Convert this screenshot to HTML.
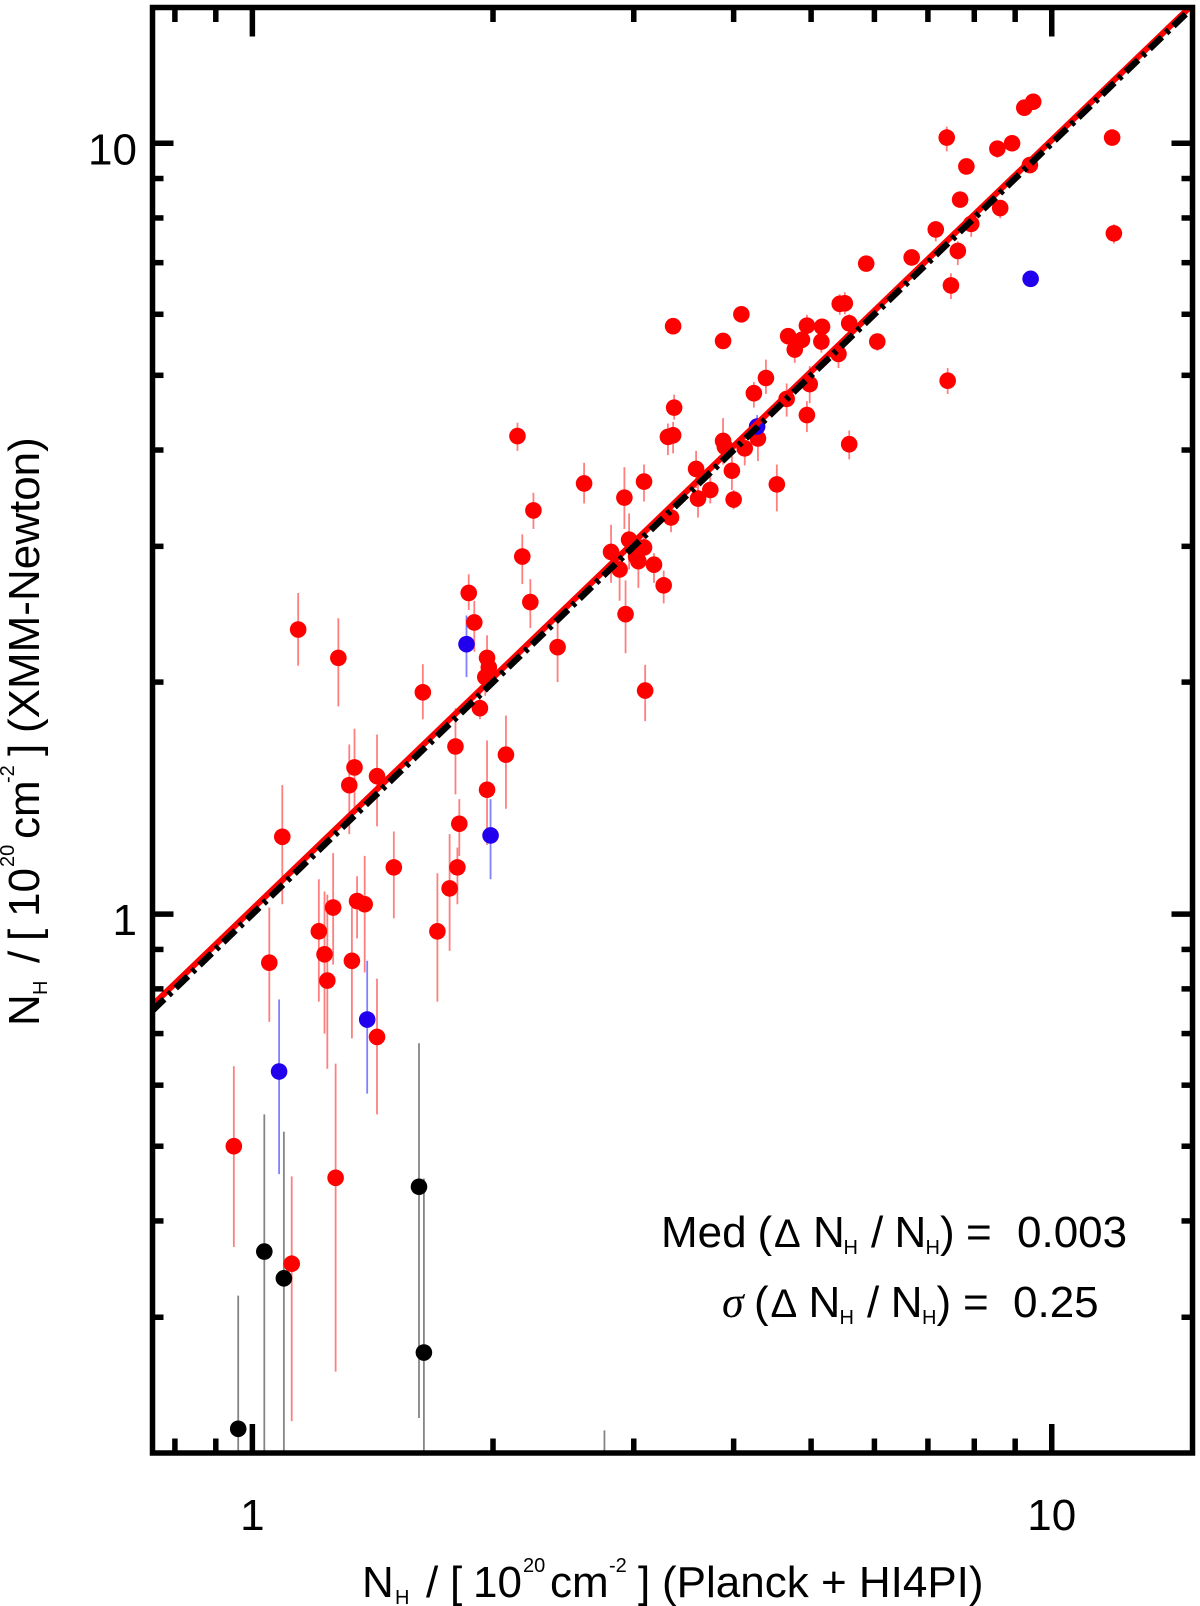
<!DOCTYPE html>
<html lang="en">
<head>
<meta charset="utf-8">
<title>NH comparison: XMM-Newton vs Planck + HI4PI</title>
<style>
html,body{margin:0;padding:0;background:#fff;}
svg{display:block;}
text{font-family:"Liberation Sans",sans-serif;fill:#000;}
.t{font-size:44px;}
.d{font-size:40px;}
.s{font-size:20px;}
.g{font-family:"Liberation Serif",serif;font-style:italic;font-size:44px;}
</style>
</head>
<body>
<svg id="chart" xmlns="http://www.w3.org/2000/svg" width="1200" height="1606" viewBox="0 0 1200 1606">
  <defs><clipPath id="plot-clip"><rect x="152.5" y="7.5" width="1040" height="1445.5"/></clipPath></defs>
  <rect x="0" y="0" width="1200" height="1606" fill="#fff"/>
  <g id="errors" clip-path="url(#plot-clip)"></g>
  <g id="points" clip-path="url(#plot-clip)"></g>
  <g id="lines" clip-path="url(#plot-clip)"></g>
  <g id="axes"></g>

  <g>
    <text class="t" x="362" y="1597">N</text>
    <text class="s" x="395" y="1604">H</text>
    <text class="t" x="426" y="1597">/</text>
    <text class="t" x="450" y="1597">[</text>
    <text class="t" x="473" y="1597">10</text>
    <text class="s" x="523" y="1572">20</text>
    <text class="t" x="550" y="1597">cm</text>
    <text class="s" x="609" y="1572">-2</text>
    <text class="t" x="638" y="1597">]</text>
    <text class="t" x="662" y="1597">(Planck + HI4PI)</text>
  </g>

  <g>
    <text class="t" transform="translate(39,1026) rotate(-90)">N</text>
    <text class="s" transform="translate(47,995) rotate(-90)">H</text>
    <text class="t" transform="translate(39,963) rotate(-90)">/</text>
    <text class="t" transform="translate(39,941) rotate(-90)">[</text>
    <text class="t" transform="translate(39,917) rotate(-90)">10</text>
    <text class="s" transform="translate(14,867) rotate(-90)">20</text>
    <text class="t" transform="translate(39,839) rotate(-90)">cm</text>
    <text class="s" transform="translate(14,783) rotate(-90)">-2</text>
    <text class="t" transform="translate(39,756) rotate(-90)">]</text>
    <text class="t" transform="translate(39,733) rotate(-90)">(XMM-Newton)</text>
  </g>

  <g>
    <text class="t" x="661" y="1247">Med</text>
    <text class="t" x="757.5" y="1247">(</text>
    <text class="d" x="774" y="1247">&#916;</text>
    <text class="t" x="813" y="1247">N</text>
    <text class="s" x="843.5" y="1254">H</text>
    <text class="t" x="871" y="1247">/</text>
    <text class="t" x="894.5" y="1247">N</text>
    <text class="s" x="925.5" y="1254">H</text>
    <text class="t" x="940" y="1247">)</text>
    <text class="t" x="966" y="1247">=</text>
    <text class="t" x="1017" y="1247">0.003</text>
  </g>
  <g>
    <text class="g" x="722" y="1317">&#963;</text>
    <text class="t" x="754" y="1317">(</text>
    <text class="d" x="770.5" y="1317">&#916;</text>
    <text class="t" x="808.5" y="1317">N</text>
    <text class="s" x="839.5" y="1324">H</text>
    <text class="t" x="867" y="1317">/</text>
    <text class="t" x="890.8" y="1317">N</text>
    <text class="s" x="922" y="1324">H</text>
    <text class="t" x="936.5" y="1317">)</text>
    <text class="t" x="963" y="1317">=</text>
    <text class="t" x="1013" y="1317">0.25</text>
  </g>
</svg>
<script>
// --- axis domains and tick values ---
const xDomain = [0.75, 15];
const yDomain = [0.2, 15];
const xMajorTicks = [1, 10];
const xMinorTicks = [0.8, 0.9, 2, 3, 4, 5, 6, 7, 8, 9];
const yMajorTicks = [1, 10];
const yMinorTicks = [0.3, 0.4, 0.5, 0.6, 0.7, 0.8, 0.9, 2, 3, 4, 5, 6, 7, 8, 9];
const xTickLabels = ['1', '10'];
const yTickLabels = ['1', '10'];

// --- reference lines ---
const lineX = [0.75, 15];
const oneToOneY = [0.75, 15];
const fitY = [0.762, 15.13];

// --- red series ---
const redX = [9.48,9.24,7.39,11.90,8.92,8.55,7.82,9.39,7.68,8.62,7.93,7.16,11.96,7.63,6.68,5.86,7.48,5.51,5.43,4.09,3.36,4.94,5.16,5.58,4.68,4.87,5.15,3.88,6.05,4.77,5.41,4.39,7.41,4.24,4.98,4.66,3.37,4.94,3.36,3.31,3.88,4.29,5.58,4.13,3.90,3.59,3.98,3.09,3.74,4.53,2.92,3.61,4.00,3.34,2.96,3.09,2.81,3.02,3.04,3.18,2.88,3.27,2.93,3.10,2.146,2.60,2.247,2.176,1.865,2.227,1.895,1.141,1.281,1.966,1.976,1.956,2.409,1.634,1.926,1.795,2.076,1.342,1.322,1.432,1.966,1.09,1.815,1.503,1.805,1.765,1.352,1.382,1.262,1.211,1.704,1.231,1.05,1.332,1.241,1.432,0.948,1.271,1.12];
const redY = [11.32,11.12,10.17,10.17,10.0,9.84,9.33,9.37,8.45,8.24,7.86,7.73,7.64,7.25,7.11,6.98,6.54,6.20,6.19,6.00,5.79,5.80,5.78,5.84,5.62,5.56,5.53,5.54,5.53,5.40,5.33,4.96,4.92,4.74,4.87,4.66,4.54,4.44,4.18,4.16,4.11,4.14,4.07,4.02,4.04,3.78,3.76,3.64,3.55,3.61,3.47,3.46,3.45,3.27,3.06,2.99,2.95,2.91,2.87,2.84,2.80,2.67,2.45,1.95,4.17,3.62,3.34,2.91,2.61,2.54,2.39,2.34,2.15,2.15,2.09,2.03,2.22,1.94,1.85,1.65,1.61,1.55,1.47,1.51,1.45,1.26,1.31,1.15,1.15,1.08,1.04,1.03,1.02,0.95,0.95,0.887,0.865,0.87,0.82,0.693,0.50,0.455,0.352];
const redYHigh = [11.5,11.3,10.51,10.35,10.2,10.0,9.5,9.55,8.6,8.4,8.09,7.88,7.85,7.46,7.25,7.1,6.78,6.41,6.37,6.1,5.9,5.99,5.9,6.00,5.72,5.66,5.69,5.64,5.63,5.56,5.50,5.24,5.11,4.90,5.14,4.88,4.72,4.63,4.35,4.33,4.40,4.29,4.24,4.17,4.12,3.99,3.94,3.83,3.70,3.83,3.80,3.62,3.55,3.36,3.31,3.10,3.20,2.97,3.01,2.94,2.95,2.79,2.71,2.106,4.34,3.85,3.52,3.11,2.76,2.72,2.55,2.61,2.42,2.30,2.13,2.07,2.39,2.11,1.95,1.85,1.81,1.74,1.66,1.71,1.68,1.47,1.41,1.28,1.22,1.27,1.12,1.19,1.20,1.11,1.13,1.07,1.02,1.02,1.06,0.825,0.635,0.64,0.457];
const redYLow = [11.15,10.95,9.76,10.0,9.85,9.57,9.2,9.2,8.3,7.99,7.56,7.46,7.41,6.95,7.0,6.88,6.28,6.00,5.99,5.9,5.7,5.60,5.68,5.69,5.52,5.46,5.35,5.44,5.38,5.19,5.11,4.73,4.73,4.54,4.60,4.42,4.38,4.22,3.96,3.94,3.83,3.87,3.89,3.82,3.96,3.57,3.55,3.43,3.41,3.33,3.16,3.27,3.35,3.13,2.80,2.90,2.69,2.85,2.65,2.69,2.55,2.53,2.18,1.78,3.99,3.41,3.16,2.68,2.48,2.35,2.19,2.10,1.86,2.05,2.05,1.92,2.00,1.79,1.79,1.43,1.37,1.37,1.27,1.30,1.23,1.03,1.19,0.988,1.03,0.896,0.93,0.84,0.86,0.77,0.77,0.70,0.725,0.69,0.63,0.55,0.37,0.255,0.22];

// --- blue series ---
const blueX = [9.41,4.28,1.986,1.392,1.08,1.853];
const blueY = [6.67,4.29,1.265,0.73,0.625,2.24];
const blueYHigh = [6.8,4.44,1.41,0.87,0.775,2.44];
const blueYLow = [6.55,4.15,1.11,0.585,0.46,2.03];

// --- black series ---
const blackX = [1.035,1.095,1.616,1.639,0.96,2.757];
const blackY = [0.365,0.337,0.443,0.27,0.215,0.17];
const blackYHigh = [0.55,0.522,0.68,0.454,0.32,0.214];
const blackYLow = [0.15,0.15,0.222,0.15,0.15,0.12];

// --- axis functions ---
const plotLeft = 152.5, plotRight = 1192.5, plotTop = 7.5, plotBottom = 1453;
function xPos(v) {
  return plotLeft + (Math.log10(v) - Math.log10(xDomain[0])) / (Math.log10(xDomain[1]) - Math.log10(xDomain[0])) * (plotRight - plotLeft);
}
function yPos(v) {
  return plotBottom - (Math.log10(v) - Math.log10(yDomain[0])) / (Math.log10(yDomain[1]) - Math.log10(yDomain[0])) * (plotBottom - plotTop);
}

const SVGNS = 'http://www.w3.org/2000/svg';
function mk(tag, parent, attrs) {
  const el = document.createElementNS(SVGNS, tag);
  for (const k in attrs) el.setAttribute(k, attrs[k]);
  parent.appendChild(el);
  return el;
}

const errG = document.getElementById('errors');
const ptG = document.getElementById('points');
const lineG = document.getElementById('lines');
const axG = document.getElementById('axes');

function drawErrors(xs, lows, highs, color, name) {
  xs.forEach(function (x, i) {
    const el = mk('line', errG, {x1: xPos(x), x2: xPos(x), y1: yPos(highs[i]), y2: yPos(lows[i]), stroke: color, 'stroke-width': 1.8});
    
    
  });
}
function drawPoints(xs, ys, color, name) {
  xs.forEach(function (x, i) {
    const el = mk('circle', ptG, {cx: xPos(x), cy: yPos(ys[i]), r: 8.3, fill: color});
    
    
  });
}

drawErrors(blackX, blackYLow, blackYHigh, '#858585', 'black-error-bar');
drawErrors(redX, redYLow, redYHigh, '#ff7f7f', 'red-error-bar');
drawErrors(blueX, blueYLow, blueYHigh, '#8080ff', 'blue-error-bar');
drawPoints(blackX, blackY, '#000000', 'black-point');
drawPoints(redX, redY, '#ff0000', 'red-point');
drawPoints(blueX, blueY, '#2200ee', 'blue-point');

// reference lines: red fit underneath, black dash-dot one-to-one on top
const fitLine = mk('line', lineG, {x1: xPos(lineX[0]), y1: yPos(fitY[0]), x2: xPos(lineX[1]), y2: yPos(fitY[1]), stroke: '#ff0000', 'stroke-width': 6});


const unityLine = mk('line', lineG, {x1: xPos(lineX[0]), y1: yPos(oneToOneY[0]), x2: xPos(lineX[1]), y2: yPos(oneToOneY[1]), stroke: '#000000', 'stroke-width': 6.5, 'stroke-dasharray': '17 6 4 6', 'stroke-dashoffset': 0.7});



// ticks
function xTick(v, len, name) {
  const a = mk('line', axG, {x1: xPos(v), x2: xPos(v), y1: plotBottom, y2: plotBottom - len, stroke: '#000', 'stroke-width': 5.5});
  
  
  const b = mk('line', axG, {x1: xPos(v), x2: xPos(v), y1: plotTop, y2: plotTop + len, stroke: '#000', 'stroke-width': 5.5});
  
  
}
function yTick(v, len, name) {
  const a = mk('line', axG, {x1: plotLeft, x2: plotLeft + len, y1: yPos(v), y2: yPos(v), stroke: '#000', 'stroke-width': 5.5});
  
  
  const b = mk('line', axG, {x1: plotRight, x2: plotRight - len, y1: yPos(v), y2: yPos(v), stroke: '#000', 'stroke-width': 5.5});
  
  
}
xMinorTicks.forEach(function (v) { xTick(v, 14.5, 'x-minor-tick'); });
xMajorTicks.forEach(function (v) { xTick(v, 29, 'x-major-tick'); });
yMinorTicks.forEach(function (v) { yTick(v, 11, 'y-minor-tick'); });
yMajorTicks.forEach(function (v) { yTick(v, 21, 'y-major-tick'); });

// frame
const frame = mk('rect', axG, {x: plotLeft, y: plotTop, width: plotRight - plotLeft, height: plotBottom - plotTop, fill: 'none', stroke: '#000', 'stroke-width': 5.5});



// tick labels
xMajorTicks.forEach(function (v, i) {
  const t = mk('text', axG, {x: xPos(v), y: 1530, 'text-anchor': 'middle', 'font-size': 44});
  
  
  t.textContent = xTickLabels[i];
});
yMajorTicks.forEach(function (v, i) {
  const t = mk('text', axG, {x: 137, y: yPos(v) + 21, 'text-anchor': 'end', 'font-size': 44});
  
  
  t.textContent = yTickLabels[i];
});
</script>
</body>
</html>
